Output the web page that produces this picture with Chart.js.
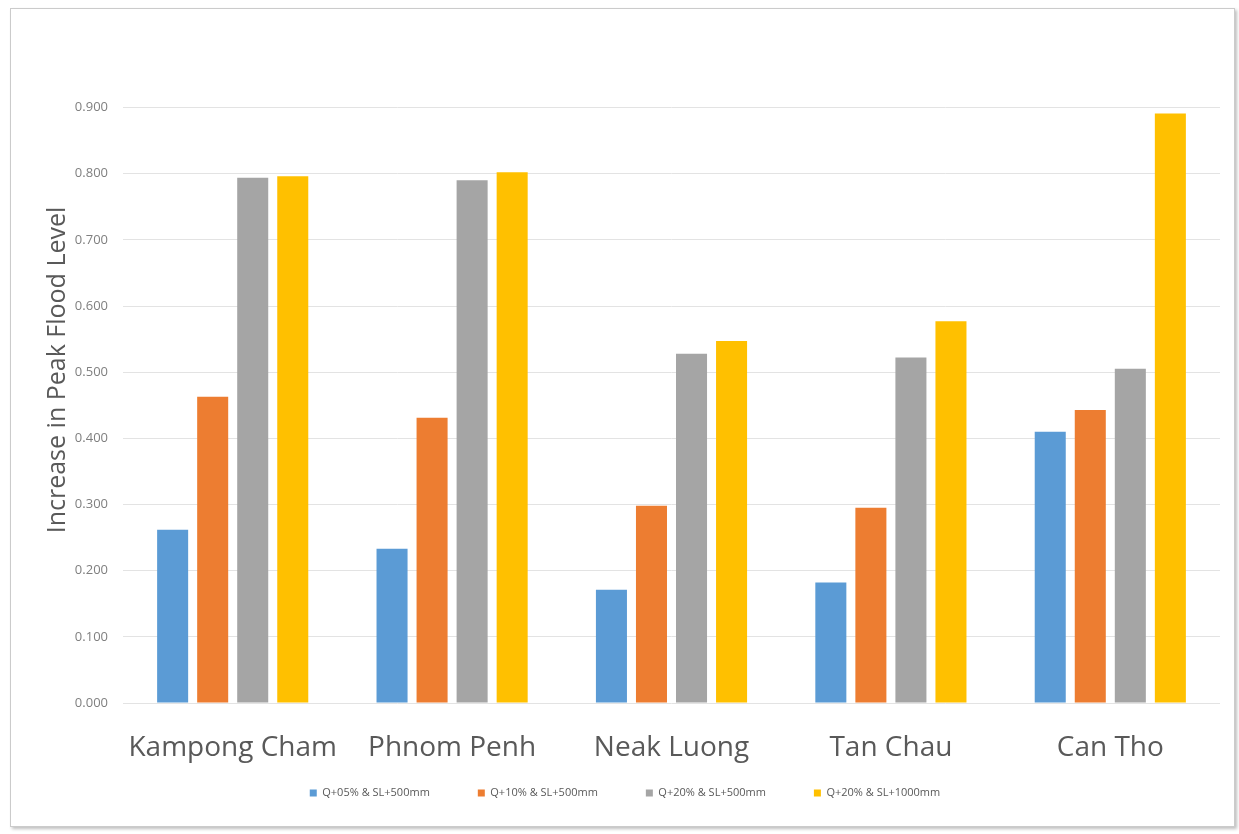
<!DOCTYPE html>
<html>
<head>
<meta charset="utf-8">
<script src="https://cdn.jsdelivr.net/npm/chart.js@4"></script>
<style>
  html, body { margin: 0; padding: 0; background: #fff; }
  #frame { position: absolute; left: 10px; top: 8px; width: 1223px; height: 817px;
           border: 1px solid #cbcbcb; box-shadow: 2px 2px 3px rgba(0,0,0,0.25); background: #fff; }
  #myChart { position: absolute; left: 0; top: 0; }
</style>
</head>
<body>
<div id="frame"></div>
<canvas id="myChart" width="1239" height="834"></canvas>
<script>
var stations = ["Kampong Cham", "Phnom Penh", "Neak Luong", "Tan Chau", "Can Tho"];
var seriesNames = ["Q+05% & SL+500mm", "Q+10% & SL+500mm", "Q+20% & SL+500mm", "Q+20% & SL+1000mm"];
var q05sl500 = [0.262, 0.233, 0.171, 0.182, 0.410];
var q10sl500 = [0.463, 0.431, 0.298, 0.295, 0.443];
var q20sl500 = [0.794, 0.790, 0.528, 0.522, 0.505];
var q20sl1000 = [0.796, 0.802, 0.547, 0.577, 0.891];
var yTitle = "Increase in Peak Flood Level";

var colors = ["#5B9BD5", "#ED7D31", "#A5A5A5", "#FFC000"];
var values = [q05sl500, q10sl500, q20sl500, q20sl1000];

// y axis title drawn by hand so it sits where the original has it
var yTitlePlugin = {
    id: 'yTitle',
    afterDraw: function (chart) {
        var c = chart.ctx;
        c.save();
        c.translate(58, 370);
        c.rotate(-Math.PI / 2);
        c.font = "25px 'Open Sans'";
        c.fillStyle = "#595959";
        c.textAlign = "center";
        c.textBaseline = "middle";
        c.fillText(yTitle, 0, 0);
        c.restore();
    }
};

var ctx = document.getElementById("myChart");
var myChart = new Chart(ctx, {
    type: 'bar',
    data: {
        labels: stations,
        datasets: seriesNames.map(function (name, i) {
            return {
                label: name,
                data: values[i],
                backgroundColor: colors[i],
                categoryPercentage: 0.73,
                barPercentage: 0.775
            };
        })
    },
    options: {
        responsive: false,
        animation: false,
        layout: { padding: { left: 30, right: 19, top: 107.5, bottom: 25.5 } },
        plugins: {
            legend: {
                position: 'bottom',
                labels: {
                    boxWidth: 7,
                    boxHeight: 7,
                    padding: 48,
                    color: "#595959",
                    font: { family: "'Open Sans'", size: 11 }
                }
            },
            tooltip: { enabled: false }
        },
        scales: {
            x: {
                grid: { display: false },
                border: { display: false },
                ticks: {
                    autoSkip: false,
                    maxRotation: 0,
                    minRotation: 0,
                    mirror: true, // keeps the big labels from being clipped to the short axis box
                    color: "#595959",
                    padding: -62,
                    font: { family: "'Open Sans'", size: 28 }
                },
                afterFit: function (s) { s.height = 36.5; }
            },
            y: {
                min: 0,
                max: 0.9,
                grid: { color: "#e3e3e3", drawTicks: false },
                border: { display: false },
                ticks: {
                    stepSize: 0.1,
                    padding: 15,
                    color: "#7f7f7f",
                    font: { family: "'Open Sans'", size: 13 },
                    callback: function (v) { return v.toFixed(3); }
                },
                afterFit: function (s) { s.width = 93; }
            }
        }
    },
    plugins: [yTitlePlugin]
});
</script>
</body>
</html>
